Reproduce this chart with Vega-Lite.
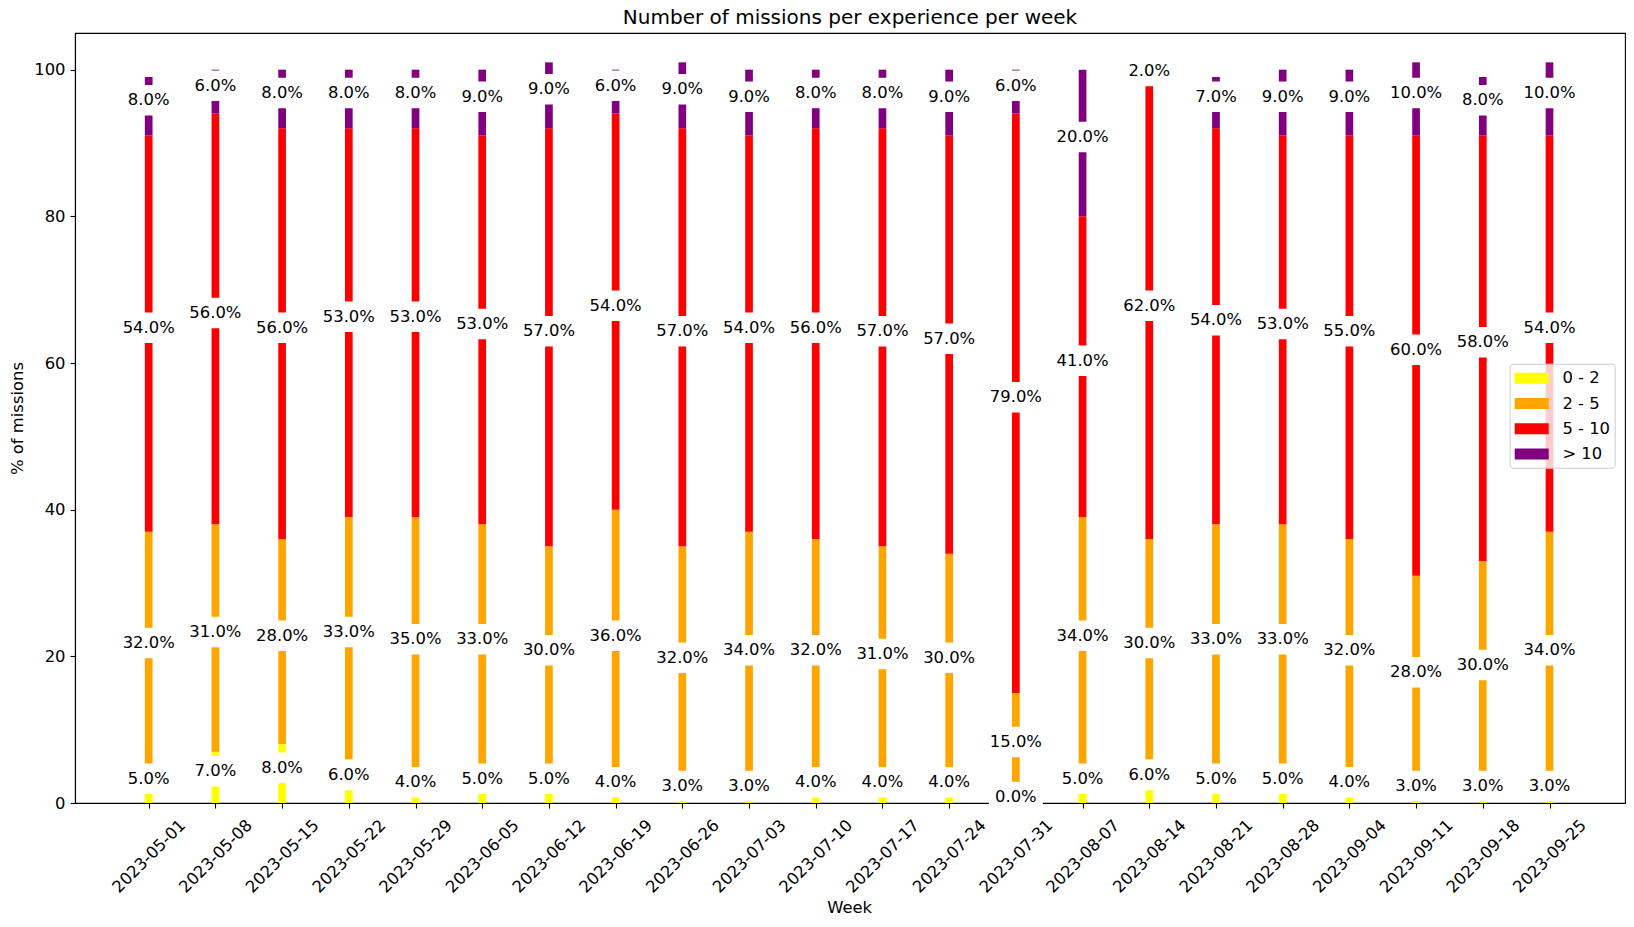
{
  "$schema": "https://vega.github.io/schema/vega-lite/v6.json",
  "width": 1550,
  "height": 770,
  "autosize": "none",
  "padding": {"left": 75, "top": 33, "right": 9, "bottom": 124},
  "background": "white",
  "title": {"text": "Number of missions per experience per week", "fontSize": 20, "font": "DejaVu Sans", "fontWeight": "normal", "baseline": "alphabetic", "offset": 0, "dy": 11, "color": "black"},
  "config": {
    "view": {"stroke": "black", "strokeWidth": 1.1},
    "axis": {"grid": false, "domainColor": "black", "tickColor": "black", "labelColor": "black", "titleColor": "black", "labelFont": "DejaVu Sans", "titleFont": "DejaVu Sans", "labelFontSize": 16.4, "titleFontSize": 16.4, "titleFontWeight": "normal", "tickSize": 5, "domainWidth": 1.1, "tickWidth": 1.1, "zindex": 0}
  },
  "data": {"values": [
    {"week": "2023-05-01", "cat": "0 - 2", "pct": 0.05}, {"week": "2023-05-01", "cat": "2 - 5", "pct": 0.32}, {"week": "2023-05-01", "cat": "5 - 10", "pct": 0.54}, {"week": "2023-05-01", "cat": "> 10", "pct": 0.08},
    {"week": "2023-05-08", "cat": "0 - 2", "pct": 0.07}, {"week": "2023-05-08", "cat": "2 - 5", "pct": 0.31}, {"week": "2023-05-08", "cat": "5 - 10", "pct": 0.56}, {"week": "2023-05-08", "cat": "> 10", "pct": 0.06},
    {"week": "2023-05-15", "cat": "0 - 2", "pct": 0.08}, {"week": "2023-05-15", "cat": "2 - 5", "pct": 0.28}, {"week": "2023-05-15", "cat": "5 - 10", "pct": 0.56}, {"week": "2023-05-15", "cat": "> 10", "pct": 0.08},
    {"week": "2023-05-22", "cat": "0 - 2", "pct": 0.06}, {"week": "2023-05-22", "cat": "2 - 5", "pct": 0.33}, {"week": "2023-05-22", "cat": "5 - 10", "pct": 0.53}, {"week": "2023-05-22", "cat": "> 10", "pct": 0.08},
    {"week": "2023-05-29", "cat": "0 - 2", "pct": 0.04}, {"week": "2023-05-29", "cat": "2 - 5", "pct": 0.35}, {"week": "2023-05-29", "cat": "5 - 10", "pct": 0.53}, {"week": "2023-05-29", "cat": "> 10", "pct": 0.08},
    {"week": "2023-06-05", "cat": "0 - 2", "pct": 0.05}, {"week": "2023-06-05", "cat": "2 - 5", "pct": 0.33}, {"week": "2023-06-05", "cat": "5 - 10", "pct": 0.53}, {"week": "2023-06-05", "cat": "> 10", "pct": 0.09},
    {"week": "2023-06-12", "cat": "0 - 2", "pct": 0.05}, {"week": "2023-06-12", "cat": "2 - 5", "pct": 0.30}, {"week": "2023-06-12", "cat": "5 - 10", "pct": 0.57}, {"week": "2023-06-12", "cat": "> 10", "pct": 0.09},
    {"week": "2023-06-19", "cat": "0 - 2", "pct": 0.04}, {"week": "2023-06-19", "cat": "2 - 5", "pct": 0.36}, {"week": "2023-06-19", "cat": "5 - 10", "pct": 0.54}, {"week": "2023-06-19", "cat": "> 10", "pct": 0.06},
    {"week": "2023-06-26", "cat": "0 - 2", "pct": 0.03}, {"week": "2023-06-26", "cat": "2 - 5", "pct": 0.32}, {"week": "2023-06-26", "cat": "5 - 10", "pct": 0.57}, {"week": "2023-06-26", "cat": "> 10", "pct": 0.09},
    {"week": "2023-07-03", "cat": "0 - 2", "pct": 0.03}, {"week": "2023-07-03", "cat": "2 - 5", "pct": 0.34}, {"week": "2023-07-03", "cat": "5 - 10", "pct": 0.54}, {"week": "2023-07-03", "cat": "> 10", "pct": 0.09},
    {"week": "2023-07-10", "cat": "0 - 2", "pct": 0.04}, {"week": "2023-07-10", "cat": "2 - 5", "pct": 0.32}, {"week": "2023-07-10", "cat": "5 - 10", "pct": 0.56}, {"week": "2023-07-10", "cat": "> 10", "pct": 0.08},
    {"week": "2023-07-17", "cat": "0 - 2", "pct": 0.04}, {"week": "2023-07-17", "cat": "2 - 5", "pct": 0.31}, {"week": "2023-07-17", "cat": "5 - 10", "pct": 0.57}, {"week": "2023-07-17", "cat": "> 10", "pct": 0.08},
    {"week": "2023-07-24", "cat": "0 - 2", "pct": 0.04}, {"week": "2023-07-24", "cat": "2 - 5", "pct": 0.30}, {"week": "2023-07-24", "cat": "5 - 10", "pct": 0.57}, {"week": "2023-07-24", "cat": "> 10", "pct": 0.09},
    {"week": "2023-07-31", "cat": "0 - 2", "pct": 0.00}, {"week": "2023-07-31", "cat": "2 - 5", "pct": 0.15}, {"week": "2023-07-31", "cat": "5 - 10", "pct": 0.79}, {"week": "2023-07-31", "cat": "> 10", "pct": 0.06},
    {"week": "2023-08-07", "cat": "0 - 2", "pct": 0.05}, {"week": "2023-08-07", "cat": "2 - 5", "pct": 0.34}, {"week": "2023-08-07", "cat": "5 - 10", "pct": 0.41}, {"week": "2023-08-07", "cat": "> 10", "pct": 0.20},
    {"week": "2023-08-14", "cat": "0 - 2", "pct": 0.06}, {"week": "2023-08-14", "cat": "2 - 5", "pct": 0.30}, {"week": "2023-08-14", "cat": "5 - 10", "pct": 0.62}, {"week": "2023-08-14", "cat": "> 10", "pct": 0.02},
    {"week": "2023-08-21", "cat": "0 - 2", "pct": 0.05}, {"week": "2023-08-21", "cat": "2 - 5", "pct": 0.33}, {"week": "2023-08-21", "cat": "5 - 10", "pct": 0.54}, {"week": "2023-08-21", "cat": "> 10", "pct": 0.07},
    {"week": "2023-08-28", "cat": "0 - 2", "pct": 0.05}, {"week": "2023-08-28", "cat": "2 - 5", "pct": 0.33}, {"week": "2023-08-28", "cat": "5 - 10", "pct": 0.53}, {"week": "2023-08-28", "cat": "> 10", "pct": 0.09},
    {"week": "2023-09-04", "cat": "0 - 2", "pct": 0.04}, {"week": "2023-09-04", "cat": "2 - 5", "pct": 0.32}, {"week": "2023-09-04", "cat": "5 - 10", "pct": 0.55}, {"week": "2023-09-04", "cat": "> 10", "pct": 0.09},
    {"week": "2023-09-11", "cat": "0 - 2", "pct": 0.03}, {"week": "2023-09-11", "cat": "2 - 5", "pct": 0.28}, {"week": "2023-09-11", "cat": "5 - 10", "pct": 0.60}, {"week": "2023-09-11", "cat": "> 10", "pct": 0.10},
    {"week": "2023-09-18", "cat": "0 - 2", "pct": 0.03}, {"week": "2023-09-18", "cat": "2 - 5", "pct": 0.30}, {"week": "2023-09-18", "cat": "5 - 10", "pct": 0.58}, {"week": "2023-09-18", "cat": "> 10", "pct": 0.08},
    {"week": "2023-09-25", "cat": "0 - 2", "pct": 0.03}, {"week": "2023-09-25", "cat": "2 - 5", "pct": 0.34}, {"week": "2023-09-25", "cat": "5 - 10", "pct": 0.54}, {"week": "2023-09-25", "cat": "> 10", "pct": 0.10}
  ]},
  "transform": [
    {"stack": "pct", "groupby": ["week"], "sort": [{"field": "cat", "order": "ascending"}], "as": ["y0", "y1"]},
    {"calculate": "(datum.y0 + datum.y1) / 2", "as": "mid"}
  ],
  "encoding": {
    "x": {"field": "week", "type": "ordinal", "sort": null,
      "scale": {"type": "point", "padding": 0, "range": [73.7, 1474.5]},
      "axis": {"title": "Week", "labelAngle": -45, "labelAlign": "center", "labelBaseline": "middle", "labelPadding": 48, "titleY": 109.4, "titleBaseline": "alphabetic"}}
  },
  "layer": [
    {
      "mark": {"type": "bar", "size": 7.7},
      "encoding": {
        "y": {"field": "y0", "type": "quantitative",
          "scale": {"domain": [0, 1.05], "nice": false, "zero": true},
          "axis": {"title": "% of missions", "values": [0, 0.2, 0.4, 0.6, 0.8, 1], "labelExpr": "format(datum.value * 100, '.0f')", "labelPadding": 5, "titleX": -52.3, "titleBaseline": "alphabetic"}},
        "y2": {"field": "y1"},
        "color": {"field": "cat", "type": "nominal",
          "scale": {"domain": ["0 - 2", "2 - 5", "5 - 10", "> 10"], "range": ["#ffff00", "#ffa500", "#ff0000", "#800080"]},
          "legend": {"orient": "none", "legendX": 1434.7, "legendY": 330.7, "title": null,
            "symbolType": "M-1.7,-0.55H1.7V0.55H-1.7Z", "symbolSize": 400, "symbolStrokeWidth": 0, "symbolOffset": 7.5,
            "labelOffset": 20.7, "labelFontSize": 16.4, "labelFont": "DejaVu Sans", "labelColor": "black",
            "padding": 4.5, "rowPadding": 6.3, "fillColor": "rgba(255,255,255,0.8)", "strokeColor": "#cccccc", "cornerRadius": 3, "zindex": 2}}
      }
    },
    {
      "mark": {"type": "point", "shape": "M-1.77,-1H1.77V1H-1.77Z", "size": 930, "filled": true, "color": "white", "opacity": 1, "strokeWidth": 0, "yOffset": -6},
      "encoding": {
        "y": {"field": "mid", "type": "quantitative"}
      }
    },
    {
      "mark": {"type": "text", "fontSize": 16.4, "font": "DejaVu Sans", "color": "black", "baseline": "middle", "align": "center", "yOffset": -6},
      "encoding": {
        "y": {"field": "mid", "type": "quantitative"},
        "text": {"field": "pct", "type": "quantitative", "format": ".1%"}
      }
    }
  ]
}
